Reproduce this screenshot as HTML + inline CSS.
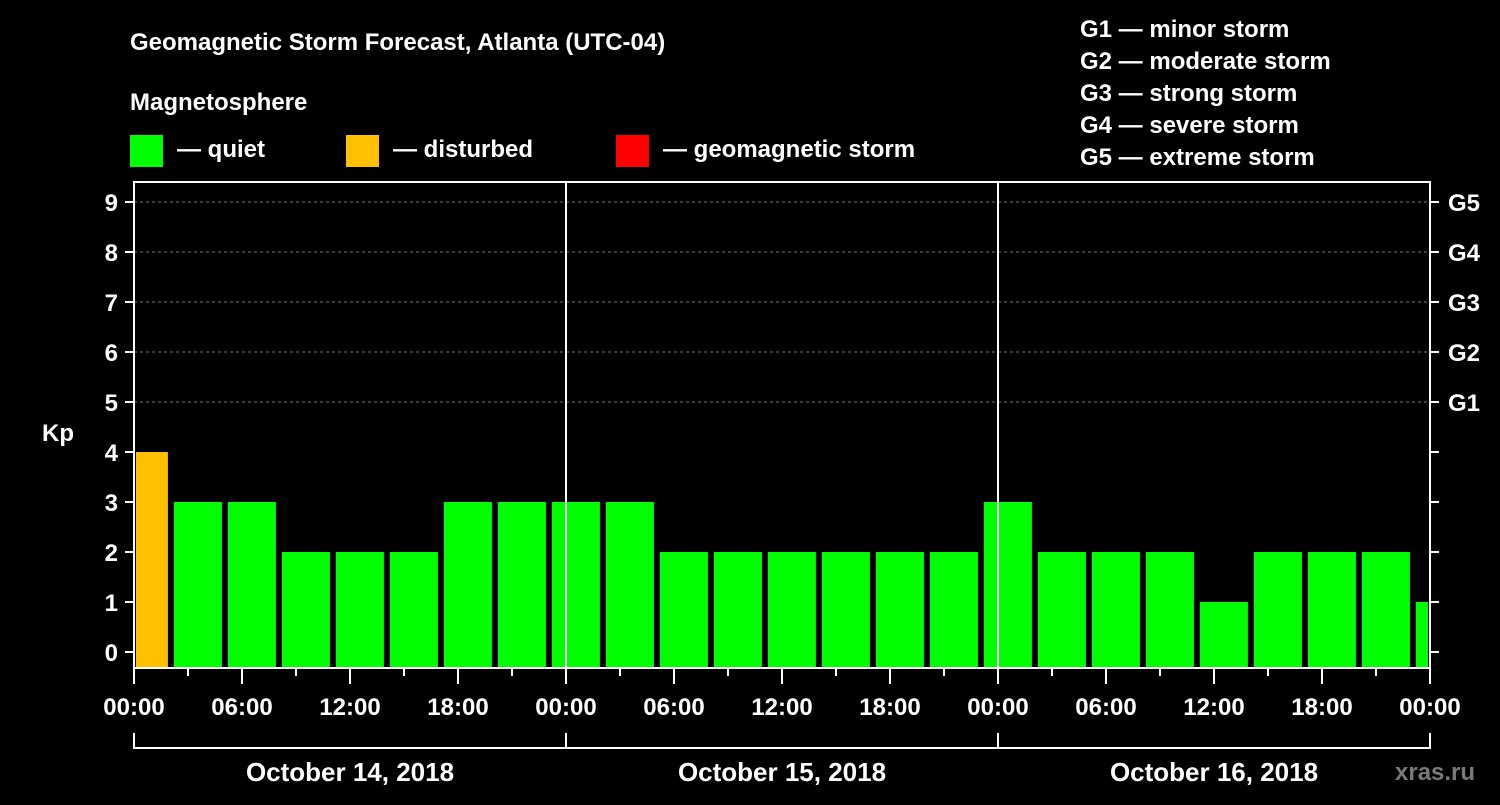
<!DOCTYPE html>
<html><head><meta charset="utf-8"><style>
body{margin:0;background:#000;}
svg text{font-family:"Liberation Sans",sans-serif;font-weight:bold;fill:#fff;}
</style></head><body>
<svg id="c" width="1500" height="800" xmlns="http://www.w3.org/2000/svg">
<text x="130" y="50" font-size="24">Geomagnetic Storm Forecast, Atlanta (UTC-04)</text>
<text x="130" y="110" font-size="24">Magnetosphere</text>
<rect x="130" y="135" width="33" height="32" fill="#00ff00"/>
<text x="177" y="157" font-size="24">— quiet</text>
<rect x="346" y="135" width="33" height="32" fill="#ffc000"/>
<text x="393" y="157" font-size="24">— disturbed</text>
<rect x="616" y="135" width="33" height="32" fill="#ff0000"/>
<text x="663" y="157" font-size="24">— geomagnetic storm</text>
<g font-size="24">
<text x="1080" y="37">G1 — minor storm</text>
<text x="1080" y="69">G2 — moderate storm</text>
<text x="1080" y="101">G3 — strong storm</text>
<text x="1080" y="133">G4 — severe storm</text>
<text x="1080" y="165">G5 — extreme storm</text>
</g>
<text x="42" y="441" font-size="24">Kp</text>
<text x="1395" y="780" font-size="24" fill="#888" style="fill:#7a7a7a">xras.ru</text>
<g id="plot"></g>
</svg>
<script>
const kpValues=[4,3,3,2,2,2,3,3,3,3,2,2,2,2,2,2,3,2,2,2,1,2,2,2,1];
const yTicks=[0,1,2,3,4,5,6,7,8,9];
const gLabels=["G1","G2","G3","G4","G5"];
const xLabels=["00:00","06:00","12:00","18:00","00:00","06:00","12:00","18:00","00:00","06:00","12:00","18:00","00:00"];
const dayLabels=["October 14, 2018","October 15, 2018","October 16, 2018"];
const L=134,R=1430,T=182,B=668;
const y=v=>652-50*v;
const x=h=>L+h*18; // hours from start
const NS="http://www.w3.org/2000/svg";
const g=document.getElementById('plot');
function mk(t,a){const e=document.createElementNS(NS,t);for(const k in a)e.setAttribute(k,a[k]);g.appendChild(e);return e;}
// grid
[5,6,7,8,9].forEach(v=>{const e=mk('line',{x1:L,x2:R,y1:y(v),y2:y(v),stroke:'#777','stroke-dasharray':'3,3'});

});
// bars
kpValues.forEach((v,i)=>{const c=x(0.55+3*i);let x0=Math.max(c-24,L+2),x1=Math.min(c+24,R-2);
const col=v>=5?'#ff0000':(v>=4?'#ffc000':'#00ff00');
const e=mk('rect',{x:x0,y:y(v),width:x1-x0,height:B-y(v),fill:col});

});
// day separators
[1,2].forEach(d=>{const e=mk('line',{x1:x(24*d),x2:x(24*d),y1:T,y2:B,stroke:'#fff','stroke-width':2});

});
// frame
const f=mk('rect',{x:L,y:T,width:R-L,height:B-T,fill:'none',stroke:'#fff','stroke-width':2});


// y ticks
yTicks.forEach(v=>{mk('line',{x1:L-9,x2:L,y1:y(v),y2:y(v),stroke:'#fff','stroke-width':2});
mk('line',{x1:R,x2:R+9,y1:y(v),y2:y(v),stroke:'#fff','stroke-width':2});
const t=mk('text',{x:L-16,y:y(v)+9,'font-size':24,'text-anchor':'end'});t.textContent=v;

});
gLabels.forEach((s,i)=>{const t=mk('text',{x:R+18,y:y(5+i)+9,'font-size':24});t.textContent=s;

});
// x ticks
for(let h=0;h<=72;h+=3){mk('line',{x1:x(h),x2:x(h),y1:B,y2:B+(h%6?8:16),stroke:'#fff','stroke-width':2});}
xLabels.forEach((s,i)=>{const t=mk('text',{x:x(6*i),y:715,'font-size':24,'text-anchor':'middle'});t.textContent=s;

});
// brackets
mk('line',{x1:L,x2:R,y1:748,y2:748,stroke:'#fff','stroke-width':2});
[0,1,2,3].forEach(d=>mk('line',{x1:x(24*d),x2:x(24*d),y1:733,y2:749,stroke:'#fff','stroke-width':2}));
dayLabels.forEach((s,i)=>{const t=mk('text',{x:x(24*i+12),y:781,'font-size':26,'text-anchor':'middle'});t.textContent=s;

});
</script>
</body></html>
